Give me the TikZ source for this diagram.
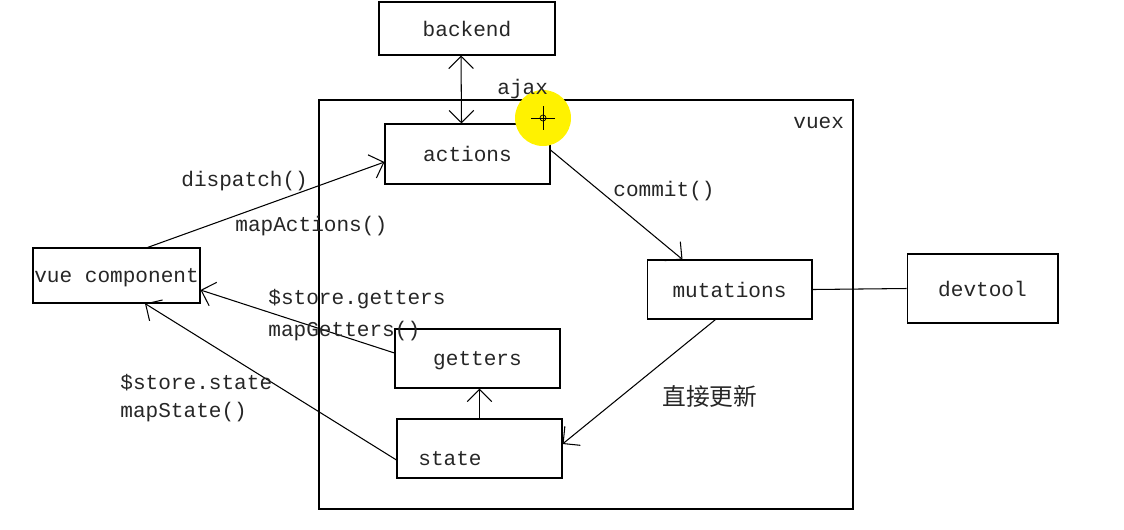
\documentclass[tikz,border=0pt]{standalone}
\usepackage{fontspec}
\setmainfont{Liberation Mono}
\newfontfamily\cjk{Noto Sans CJK SC}
\usetikzlibrary{arrows.meta}
\tikzset{
  box/.style={draw, semithick, inner sep=0pt, text depth=-2pt},
  lbl/.style={anchor=west, inner sep=0pt, font=\fontsize{12}{14}\selectfont},
  link/.style={semithick},
}
\begin{document}
\begin{tikzpicture}[x=0.02cm, y=-0.02cm, >={Straight Barb[length=7pt,width=14pt]},
    font=\fontsize{12}{14}\selectfont, text=black!85]
    \useasboundingbox (0,0) rectangle (1124,529);

    % vuex frame
    \draw[semithick] (319,100) rectangle (853,509);
    \node[lbl] (vuexlbl) at (793,123) {vuex};

    \node[box, minimum width=3.52cm, minimum height=1.06cm] (backend) at (467,28.5) {backend};
    \node[box, minimum width=3.3cm, minimum height=1.2cm] (actions) at (467.5,154) {actions};
    \node[box, minimum width=3.3cm, minimum height=1.18cm] (mutations) at (729.5,289.5) {mutations};
    \node[box, minimum width=3.02cm, minimum height=1.38cm] (devtool) at (982.5,288.5) {devtool};
    \node[box, minimum width=3.34cm, minimum height=1.1cm] (vue) at (116.5,275.5) {vue component};
    \node[box, minimum width=3.3cm, minimum height=1.18cm] (getters) at (477.5,358.5) {getters};
    \node[box, minimum width=3.3cm, minimum height=1.18cm] (state) at (479.5,448.5) {};
    \node[inner sep=0pt] (statelbl) at (450,459) {state};

    % cursor highlight
    \fill[yellow] (543,118) circle (28);
    \draw[thin] (531,118) -- (555,118) (543,106) -- (543,130);
    \draw[thin] (543,118) circle (3);

    \draw[link, <->] ([xshift=-0.12cm]backend.south) -- ([xshift=-0.12cm]actions.north);
    \node[lbl] (ajax) at (497,89) {ajax};

    \draw[link, ->] ([xshift=0.62cm]vue.north) -- ([yshift=-0.16cm]actions.west);
    \node[lbl] (dispatch) at (181,181) {dispatch()};
    \node[lbl] (mapactions) at (235,226) {mapActions()};

    \draw[link, ->] ([yshift=0.08cm]actions.east) -- ([xshift=-0.94cm]mutations.north);
    \node[lbl] (commit) at (613,191) {commit()};

    \draw[link] (mutations.east) -- (devtool.west);

    \draw[link, ->] ([xshift=-0.28cm]mutations.south) -- ([yshift=0.09cm]state.east);
    \node[lbl, font=\fontsize{13.5}{16}\selectfont] (direct) at (662,396) {\cjk 直接更新};

    \draw[link, ->] (state.north) -- (state.north |- getters.south);

    \draw[link, ->] ([yshift=0.11cm]getters.west) -- ([yshift=-0.29cm]vue.east);
    \node[lbl] (storegetters) at (268,299) {\$store.getters};
    \node[lbl] (mapgetters) at (268,331) {mapGetters()};

    \draw[link, ->] ([yshift=-0.23cm]state.west) -- ([xshift=0.57cm]vue.south);
    \node[lbl] (storestate) at (120,383) {\$store.state};
    \node[lbl] (mapstate) at (120,412) {mapState()};
\end{tikzpicture}
\end{document}
